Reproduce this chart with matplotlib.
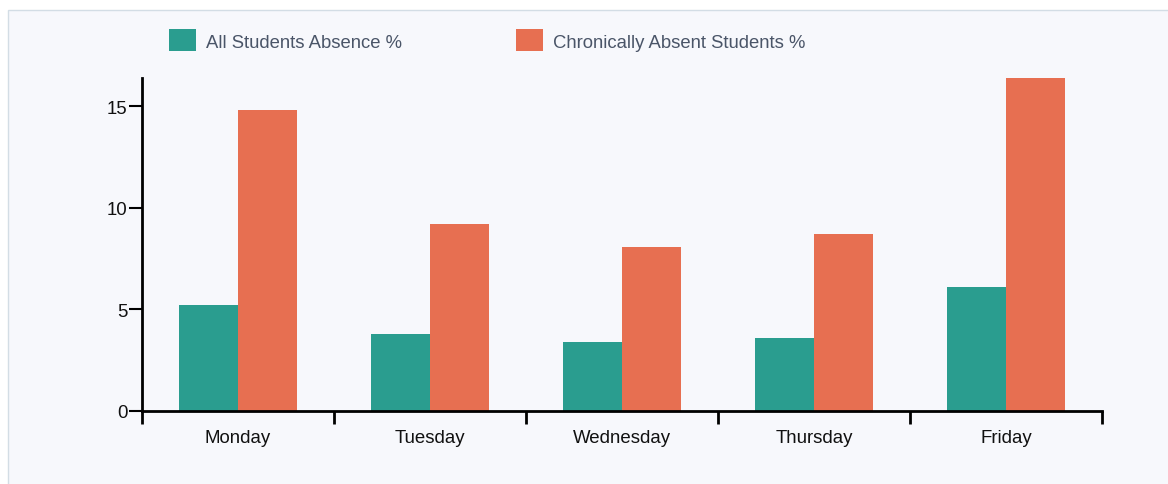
import matplotlib
matplotlib.use("Agg")
import matplotlib.pyplot as plt
from matplotlib.patches import Rectangle
import numpy as np

plt.rcParams['font.family'] = ['Liberation Sans', 'DejaVu Sans']

days = ["Monday", "Tuesday", "Wednesday", "Thursday", "Friday"]
series_names = ["All Students Absence %", "Chronically Absent Students %"]
all_students = [5.2, 3.8, 3.4, 3.6, 6.1]
chronic = [14.8, 9.2, 8.1, 8.7, 16.4]
colors = ["#2a9d8f", "#e76f51"]
yticks = [0, 5, 10, 15]

W, H = 1168, 485
fig = plt.figure(figsize=(W / 100, H / 100), dpi=100)
fig.patch.set_facecolor("white")

# panel background
fig.patches.append(Rectangle((8 / W, -0.01), 1.2, (H - 11) / H + 0.01, transform=fig.transFigure,
                             facecolor="#f7f8fc", edgecolor="#d3dde5", linewidth=1.0, zorder=-5))

ax = fig.add_axes([142 / W, (H - 412) / H, (1102 - 142) / W, (412 - 79) / H])
ax.set_facecolor("none")
ax.set_zorder(2)

x = np.arange(len(days))
bw = 59 / 192
ax.bar(x - bw / 2, all_students, width=bw, color=colors[0], zorder=2)
ax.bar(x + bw / 2, chronic, width=bw, color=colors[1], zorder=2)

ax.set_xlim(-0.5, len(days) - 0.5)
ax.set_ylim(0, max(chronic))

for s in ["top", "right"]:
    ax.spines[s].set_visible(False)
for s in ["left", "bottom"]:
    ax.spines[s].set_linewidth(2)
    ax.spines[s].set_color("black")

ax.set_xticks(x)
ax.set_xticklabels(days)
ax.set_xticks(np.arange(len(days) + 1) - 0.5, minor=True)
ax.tick_params(axis="x", which="major", length=0, pad=13, labelsize=13.4, labelcolor="#111111")
ax.tick_params(axis="x", which="minor", length=9, width=2, color="black")
ax.set_yticks(yticks)
ax.tick_params(axis="y", length=9.5, width=1.5, pad=1, labelsize=13.4, labelcolor="#111111")

# legend
lx_rect = [169, 516]
lx_text = [206, 553]
for i, name in enumerate(series_names):
    fig.patches.append(Rectangle((lx_rect[i] / W, (H - 52) / H), 27 / W, 22 / H,
                                 transform=fig.transFigure, facecolor=colors[i],
                                 edgecolor="none", zorder=3))
    fig.text(lx_text[i] / W, (H - 43.5) / H, name, fontsize=13.3, color="#4a5568",
             ha="left", va="center")

fig.savefig("out.png", dpi=100)
